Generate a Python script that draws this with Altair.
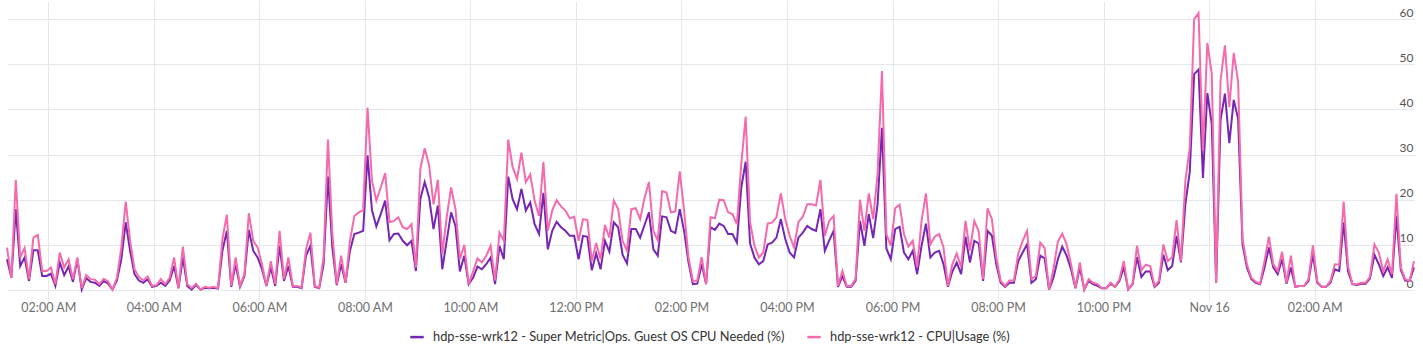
import altair as alt
import pandas as pd
from datetime import datetime, timezone, timedelta

# ---- series values (5-minute samples) ----
needed_a = [6.8, 2.7, 17.9, 5.3, 7.2, 2.0, 8.8, 8.8, 3.1, 3.1, 3.6, 0.9, 6.1, 3.3, 5.2, 1.8, 6.8, 0.1, 2.6, 1.8,
            1.6, 0.9, 2.0, 1.4, 0.1, 2.1, 6.8, 15.0, 8.7, 3.5, 2.1, 1.6, 2.4, 0.7, 0.9, 1.6, 0.9, 2.1, 5.3, 0.4,
            7.2, 0.9, 0.1, 1.1, 0.1, 0.5, 0.4, 0.5, 0.3, 8.7, 13.1, 0.7, 5.7]
needed_b = [0.7, 3.1, 13.3, 8.7, 7.2, 4.6, 0.9, 5.0, 0.9, 9.8, 2.0, 5.3, 0.7, 0.7, 0.4, 7.6, 9.8, 0.7, 0.4, 5.7,
            25.1, 9.4, 1.1, 5.7, 1.6, 8.7, 12.4, 12.7, 13.1, 29.8, 17.7, 14.1, 16.8, 19.8, 11.0, 12.4, 12.5, 10.9, 9.9, 10.9,
            4.2, 20.1, 23.9, 20.5, 13.5, 18.7, 4.6, 10.9, 17.2, 14.2, 4.1, 7.6, 1.3]
needed_c = [2.7, 5.2, 4.6, 5.7, 7.2, 1.3, 9.8, 6.8, 25.1, 20.1, 17.9, 22.4, 17.6, 19.4, 14.6, 12.4, 21.5, 9.0, 13.1, 15.1,
            13.9, 13.1, 12.0, 12.0, 6.8, 12.0, 11.8, 4.4, 8.1, 4.6, 10.9, 8.5, 15.0, 13.9, 7.8, 5.9, 13.5, 13.5, 11.6, 14.4,
            17.2, 9.0, 7.6, 16.3, 16.1, 13.1, 12.6, 17.9, 13.1, 6.1, 1.3, 1.4]
needed_d = [5.7, 1.3, 13.9, 13.3, 14.7, 14.2, 12.4, 12.4, 10.5, 22.7, 28.4, 10.3, 7.2, 5.7, 6.4, 10.1, 10.5, 11.6, 15.7, 11.3,
            8.3, 7.2, 11.6, 12.7, 14.2, 13.5, 13.1, 17.9, 8.7, 11.0, 13.1, 0.7, 3.1, 0.7, 0.7, 2.0, 15.3, 9.8, 16.8, 11.5,
            19.0, 35.9, 9.2, 6.8, 13.5, 14.0, 8.3, 6.8, 8.7, 3.5, 9.8, 14.7]
needed_e = [7.2, 8.3, 8.7, 5.7, 0.7, 4.1, 6.1, 3.5, 11.8, 6.1, 10.9, 10.3, 2.0, 13.1, 12.0, 5.7, 1.6, 0.7, 1.6, 1.6,
            6.4, 8.3, 10.1, 1.6, 2.4, 7.6, 7.0, 0.1, 2.7, 6.8, 9.6, 7.6, 4.6, 0.4, 5.0, 0.1, 2.0, 1.3, 0.9, 0.4,
            0.4, 1.4, 0.7, 2.0, 5.0, 0.1, 1.3, 7.3, 2.9, 4.1, 4.1, 0.7]
needed_f = [1.6, 7.8, 4.4, 5.3, 12.0, 6.1, 19.0, 26.1, 47.8, 48.8, 24.8, 43.6, 36.8, 1.6, 37.6, 43.5, 32.5, 42.1, 37.9, 10.1,
            5.0, 2.4, 1.6, 1.3, 5.0, 9.4, 5.0, 3.5, 6.8, 1.4, 5.0, 0.7, 0.9, 0.9, 2.0, 7.9, 1.6, 0.7, 0.7, 1.6,
            4.6, 4.2, 15.0, 4.1, 1.3, 1.1, 1.4, 1.4, 2.6, 7.8, 5.7, 3.1, 5.0, 2.7, 16.4, 4.4, 2.1, 2.0, 5.0]

usage_a = [9.4, 2.7, 24.4, 7.2, 9.3, 2.4, 11.6, 12.2, 4.2, 4.2, 5.0, 1.3, 8.3, 5.0, 6.8, 2.4, 7.2, 0.4, 3.3, 2.4,
           2.3, 1.3, 2.5, 1.9, 0.1, 2.7, 9.4, 19.6, 10.9, 4.6, 2.9, 2.1, 3.0, 0.9, 1.1, 2.4, 1.3, 2.7, 7.2, 0.4,
           9.6, 1.3, 0.4, 1.4, 0.1, 0.7, 0.5, 0.7, 0.4, 11.3, 16.7, 0.9, 7.2]
usage_b = [0.9, 3.5, 17.0, 10.9, 9.4, 5.7, 0.9, 6.4, 1.3, 13.1, 2.4, 7.2, 0.9, 0.9, 0.5, 9.0, 12.7, 0.9, 0.5, 7.2,
           33.3, 12.4, 1.3, 7.6, 1.6, 10.9, 16.4, 17.2, 17.7, 40.4, 24.2, 19.8, 22.7, 25.9, 15.0, 15.3, 16.1, 13.9, 13.5, 14.6,
           5.0, 26.8, 31.4, 27.6, 19.0, 24.4, 7.9, 16.1, 22.7, 17.9, 6.8, 10.0, 1.3]
usage_c = [4.1, 7.0, 6.1, 7.6, 9.8, 2.1, 12.7, 10.9, 33.3, 27.2, 24.6, 30.4, 23.9, 25.6, 19.8, 16.4, 28.4, 13.1, 17.6, 19.9,
           18.5, 17.6, 15.9, 16.2, 10.9, 15.7, 15.5, 6.4, 10.4, 6.8, 14.4, 11.6, 19.8, 17.9, 10.9, 8.7, 17.9, 18.1, 15.7, 20.4,
           23.9, 13.1, 11.0, 21.9, 21.6, 17.2, 17.4, 26.3, 17.6, 7.2, 2.0, 2.1]
usage_d = [7.3, 1.3, 16.1, 15.9, 20.0, 19.9, 17.2, 16.8, 14.6, 27.9, 38.4, 15.0, 9.8, 7.2, 8.3, 14.7, 14.9, 16.1, 21.4, 15.7,
           12.0, 9.4, 15.1, 16.2, 19.0, 19.0, 18.7, 24.4, 12.0, 15.3, 16.4, 0.9, 4.2, 0.9, 0.9, 2.4, 20.0, 13.1, 21.4, 15.7,
           25.7, 48.5, 12.4, 9.8, 18.1, 18.9, 12.4, 9.6, 10.9, 5.0, 15.3, 21.4]
usage_e = [10.1, 11.8, 12.4, 9.4, 0.9, 5.7, 8.1, 5.0, 15.3, 8.7, 15.3, 13.0, 2.4, 18.1, 15.7, 7.2, 2.0, 0.9, 2.1, 2.1,
           8.1, 10.9, 13.1, 2.4, 3.1, 10.5, 9.3, 0.1, 4.6, 10.7, 12.5, 10.1, 5.7, 0.5, 6.1, 0.1, 2.4, 1.6, 1.3, 0.4,
           0.4, 1.6, 0.7, 2.4, 6.4, 0.1, 1.4, 9.8, 4.4, 5.6, 5.3, 0.9]
usage_f = [2.0, 10.1, 6.4, 7.2, 15.5, 6.4, 24.2, 31.6, 60.0, 61.3, 30.9, 54.7, 47.9, 1.6, 46.4, 54.2, 40.5, 52.5, 46.1, 11.3,
           5.7, 2.7, 1.8, 1.4, 6.4, 11.8, 5.7, 4.2, 8.5, 1.6, 7.6, 0.7, 0.9, 0.9, 2.4, 9.9, 1.9, 0.7, 0.7, 2.0,
           5.7, 5.6, 19.6, 5.3, 1.3, 1.3, 1.6, 1.6, 2.9, 10.1, 8.3, 4.2, 6.8, 3.5, 21.3, 5.0, 2.4, 2.0, 6.4]

needed = needed_a + needed_b + needed_c + needed_d + needed_e + needed_f
usage = usage_a + usage_b + usage_c + usage_d + usage_e + usage_f

S1 = "hdp-sse-wrk12 - Super Metric|Ops. Guest OS CPU Needed (%)"
S2 = "hdp-sse-wrk12 - CPU|Usage (%)"
series_names = [S1, S2]
series_colors = ["#7526b4", "#f46aac"]
y_ticks = [0, 10, 20, 30, 40, 50, 60]

START = datetime(2023, 11, 15, 1, 13, tzinfo=timezone.utc)


def ms(d):
    return int(d.timestamp() * 1000)


n = len(needed)
times = [ms(START + timedelta(minutes=5 * i)) for i in range(n)]
x_ticks = [ms(datetime(2023, 11, 15, 2, tzinfo=timezone.utc) + timedelta(hours=2 * k)) for k in range(13)]

df = pd.DataFrame({
    "t": times + times,
    "v": needed + usage,
    "s": [S1] * n + [S2] * n,
})

GRID = "#e4e7eb"
FONT = "Lato"

chart = alt.Chart(df).mark_line(strokeWidth=2).encode(
    x=alt.X("t:T",
            scale=alt.Scale(type="utc", domain=[times[0], times[-1]], nice=False),
            axis=alt.Axis(values=x_ticks,
                          labelExpr="utchours(datum.value) == 0 ? utcFormat(datum.value, '%b %d') : utcFormat(datum.value, '%I:%M %p')",
                          title=None, grid=True, gridColor=GRID, gridWidth=1,
                          tickColor=GRID, tickSize=10, domain=False,
                          labelPadding=1, labelFontSize=12.5, labelColor="#707070",
                          labelFont=FONT, labelFlush=False)),
    y=alt.Y("v:Q",
            scale=alt.Scale(domain=[0, 64], nice=False),
            axis=alt.Axis(orient="right", values=y_ticks, title=None, ticks=False, tickSize=0,
                          domain=False, grid=True, gridColor=GRID, gridWidth=1,
                          labelAlign="right", labelPadding=-1, labelBaseline="alphabetic",
                          labelOffset=-3, labelFontSize=12, labelColor="#555555", labelFont=FONT)),
    color=alt.Color("s:N",
                    scale=alt.Scale(domain=series_names, range=series_colors),
                    sort=series_names,
                    legend=alt.Legend(orient="none", legendX=402, legendY=328, direction="horizontal",
                                      title=None, symbolType="stroke", symbolStrokeWidth=2.5,
                                      symbolSize=180, labelOffset=8, labelFontSize=12.8, labelFont=FONT,
                                      labelColor="#333333", columnPadding=17, labelLimit=0)),
    order=alt.Order("s:N"),
).properties(
    width=1407, height=289,
    padding={"left": 7, "top": 1, "right": 9, "bottom": 63},
    autosize="none",
).configure_view(stroke=None)

chart.save("out.html", embed_options={"renderer": "svg", "actions": False})
